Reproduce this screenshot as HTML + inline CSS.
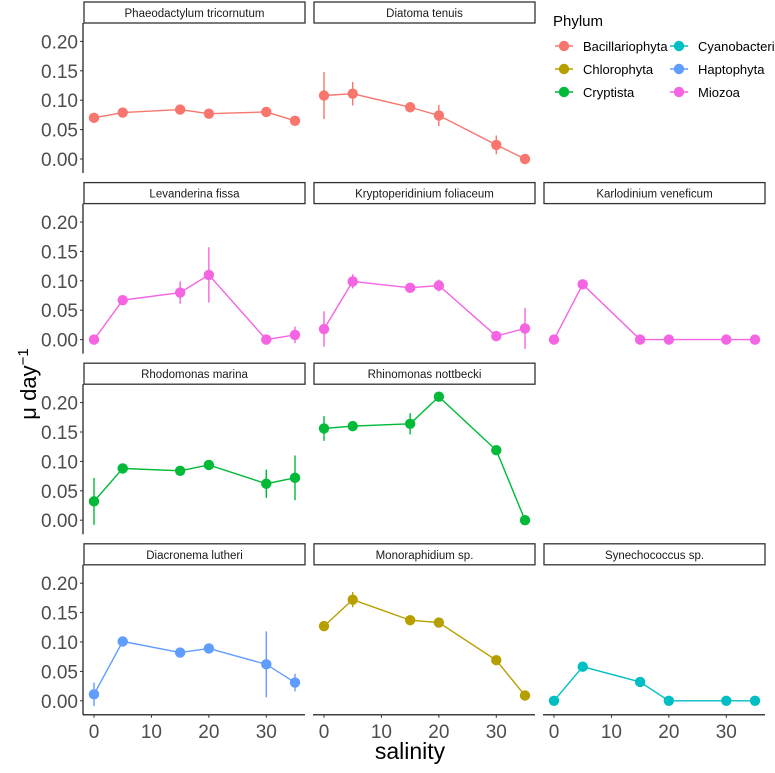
<!DOCTYPE html>
<html><head><meta charset="utf-8"><style>
body{margin:0;background:#fff}
svg text{font-family:"Liberation Sans",Arial,sans-serif}
</style></head><body>
<svg id="c" width="775" height="768" xmlns="http://www.w3.org/2000/svg"></svg>
<script>
const salinity=[0,5,15,20,30,35];
const panelNames=["Phaeodactylum tricornutum","Diatoma tenuis","Levanderina fissa","Kryptoperidinium foliaceum","Karlodinium veneficum","Rhodomonas marina","Rhinomonas nottbecki","Diacronema lutheri","Monoraphidium sp.","Synechococcus sp."];
const panelPhylum=["Bacillariophyta","Bacillariophyta","Miozoa","Miozoa","Miozoa","Cryptista","Cryptista","Haptophyta","Chlorophyta","Cyanobacteria"];
const panelRow=[0,0,1,1,1,2,2,3,3,3];
const panelCol=[0,1,0,1,2,0,1,0,1,2];
const growth=[
[0.070,0.079,0.084,0.077,0.080,0.065],
[0.108,0.111,0.088,0.074,0.024,0.000],
[0.000,0.067,0.080,0.110,0.000,0.008],
[0.018,0.099,0.088,0.092,0.006,0.019],
[0.000,0.094,0.000,0.000,0.000,0.000],
[0.032,0.088,0.084,0.094,0.062,0.072],
[0.156,0.160,0.164,0.210,0.119,0.000],
[0.011,0.101,0.082,0.089,0.062,0.031],
[0.127,0.172,0.137,0.133,0.069,0.009],
[0.000,0.058,0.032,0.000,0.000,0.000]];
const errHalf=[
[0,0,0,0,0,0],
[0.040,0.020,0,0.018,0.016,0],
[0,0,0.019,0.047,0,0.014],
[0.030,0.012,0.008,0.010,0.009,0.035],
[0,0,0,0,0,0],
[0.040,0,0,0,0.024,0.038],
[0.021,0,0.018,0,0,0],
[0.020,0,0,0,0.056,0.015],
[0,0.013,0,0,0,0],
[0,0,0,0,0,0]];
const phyla=["Bacillariophyta","Chlorophyta","Cryptista","Cyanobacteria","Haptophyta","Miozoa"];
const phylaColors=["#F8766D","#B79F00","#00BA38","#00BFC4","#619CFF","#F564E3"];
const yTicks=[0,0.05,0.10,0.15,0.20];
const yTickLabels=["0.00","0.05","0.10","0.15","0.20"];
const xTicks=[0,10,20,30];

const NS="http://www.w3.org/2000/svg";
const svg=document.getElementById('c');
function mk(t,a,p){const e=document.createElementNS(NS,t);for(const k in a)e.setAttribute(k,a[k]);(p||svg).appendChild(e);return e;}
const ROW=180.6,COLW=230;
function xs(col,v){return 94+col*COLW+v*5.743;}
function ys(row,v){return 159+row*ROW-v*588;}
const colLeft=c=>83+c*COLW, panelW=222;

for(let i=0;i<panelNames.length;i++){
  const r=panelRow[i],c=panelCol[i],x0=colLeft(c),top=2+r*ROW;
  const g=mk('g',{});
  
  
  const s=mk('rect',{x:x0+1,y:top,width:panelW-1,height:21,fill:'#fff',stroke:'#333','stroke-width':1.3},g);
  
  
  const st=mk('text',{x:x0+panelW/2+0.5,y:top+15,'text-anchor':'middle','font-size':11.5,fill:'#1a1a1a'},g);
  st.textContent=panelNames[i];
  
  
  const col=phylaColors[phyla.indexOf(panelPhylum[i])];
  const pts=salinity.map((s,j)=>xs(c,s)+','+ys(r,growth[i][j])).join(' ');
  const ln=mk('polyline',{points:pts,fill:'none',stroke:col,'stroke-width':1.4},g);
  
  
  salinity.forEach((s,j)=>{
    const e=errHalf[i][j];
    if(e>0){const eb=mk('line',{x1:xs(c,s),x2:xs(c,s),y1:ys(r,growth[i][j]-e),y2:ys(r,growth[i][j]+e),stroke:col,'stroke-width':1.4},g);
      
      }
    const p=mk('circle',{cx:xs(c,s),cy:ys(r,growth[i][j]),r:5.2,fill:col},g);
    
    
  });
  const ptop=23+r*ROW,pbot=173+r*ROW;
  if(c===0){
    mk('line',{x1:x0,x2:x0,y1:ptop,y2:pbot,stroke:'#000','stroke-width':1.1},g);
    yTicks.forEach((t,k)=>{
      mk('line',{x1:x0-3,x2:x0,y1:ys(r,t),y2:ys(r,t),stroke:'#333','stroke-width':1},g);
      const tl=mk('text',{x:x0-5,y:ys(r,t)+7,'text-anchor':'end','font-size':19,fill:'#4d4d4d'},g);
      tl.textContent=yTickLabels[k];
      
      
    });
  }
  if(r===3){
    mk('line',{x1:x0,x2:x0+panelW,y1:pbot,y2:pbot,stroke:'#000','stroke-width':1.1},g);
    xTicks.forEach(t=>{
      mk('line',{x1:xs(c,t),x2:xs(c,t),y1:pbot,y2:pbot+3,stroke:'#333','stroke-width':1},g);
      const tl=mk('text',{x:xs(c,t),y:pbot+23,'text-anchor':'middle','font-size':19,fill:'#4d4d4d'},g);
      tl.textContent=t;
      
      
    });
  }
}
const yt=mk('text',{x:0,y:0,transform:'translate(36,384) rotate(-90)','text-anchor':'middle','font-size':22,fill:'#000'});
yt.innerHTML='μ day<tspan dy="-8" font-size="15">−1</tspan>';


const xt=mk('text',{x:410,y:759,'text-anchor':'middle','font-size':23,fill:'#000'});
xt.textContent='salinity';


const lg=mk('g',{});


const lt=mk('text',{x:553,y:26,'font-size':15,fill:'#000'},lg);
lt.textContent='Phylum';


phyla.forEach((p,k)=>{
  const cx=k<3?564:679, cy=46+(k%3)*23;
  const eg=mk('g',{},lg);
  
  
  mk('line',{x1:cx-9,x2:cx+9,y1:cy,y2:cy,stroke:phylaColors[k],'stroke-width':1.4},eg);
  mk('circle',{cx:cx,cy:cy,r:5.2,fill:phylaColors[k]},eg);
  const t=mk('text',{x:cx+19,y:cy+5,'font-size':13,fill:'#000'},eg);
  t.textContent=p;
});
</script>
</body></html>
